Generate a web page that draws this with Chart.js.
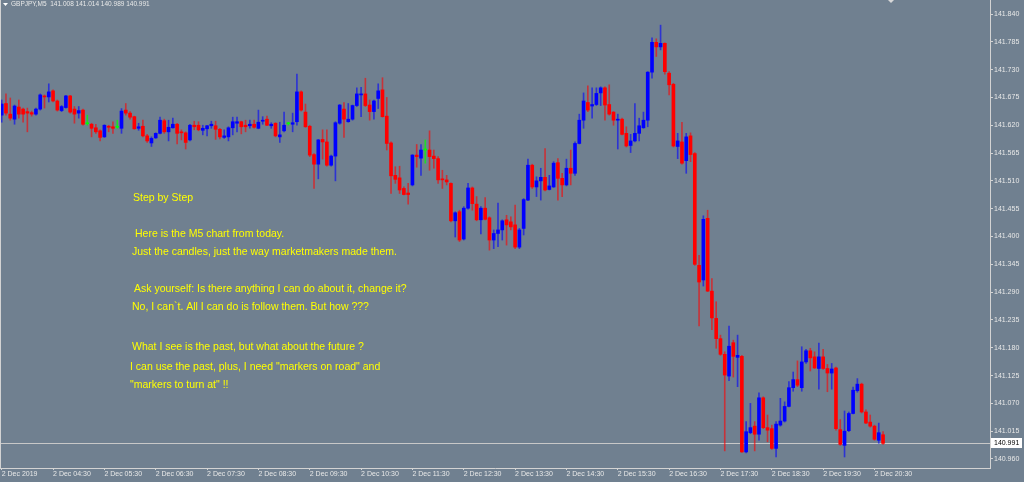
<!DOCTYPE html>
<html>
<head>
<meta charset="utf-8">
<title>GBPJPY,M5</title>
<script src="https://cdn.jsdelivr.net/npm/chart.js@4.4.1/dist/chart.umd.min.js"></script>
<style>
  html, body { margin: 0; padding: 0; background: #708090; }
  canvas { display: block; }
</style>
</head>
<body>
<canvas id="chart" width="1024" height="482"></canvas>
<script>
// GBPJPY M5 candles, 2 Dec 2019 from 03:30 — one row per hour (12 bars)
const symbol = 'GBPJPY,M5';

const opens = [
  141.640,141.663,141.642,141.632,141.656,141.652,141.647,141.645,141.642,141.652,141.678,141.676,
  141.688,141.668,141.649,141.655,141.678,141.652,141.644,141.650,141.623,141.622,141.615,141.609,
  141.597,141.618,141.617,141.616,141.614,141.650,141.644,141.637,141.614,141.618,141.599,141.585,
  141.595,141.604,141.629,141.607,141.615,141.622,141.607,141.605,141.591,141.620,141.620,141.610,
  141.613,141.619,141.619,141.612,141.596,141.597,141.615,141.624,141.627,141.620,141.619,141.622,
  141.614,141.628,141.632,141.619,141.624,141.597,141.609,141.623,141.622,141.627,141.686,141.646,
  141.618,141.562,141.543,141.592,141.587,141.541,141.559,141.624,141.652,141.627,141.632,141.659,
  141.680,141.682,141.660,141.647,141.673,141.690,141.638,141.585,141.521,141.516,141.495,141.486,
  141.502,141.561,141.555,141.571,141.571,141.559,141.554,141.514,141.512,141.505,141.431,141.449,
  141.395,141.456,141.496,141.464,141.433,141.456,141.437,141.393,141.406,141.413,141.433,141.429,
  141.423,141.379,141.416,141.472,141.541,141.498,141.510,141.517,141.493,141.498,141.546,141.515,
  141.502,141.535,141.525,141.584,141.630,141.665,141.658,141.661,141.684,141.694,141.661,141.646,
  141.630,141.632,141.604,141.580,141.589,141.604,141.615,141.630,141.725,141.784,141.775,141.782,
  141.723,141.701,141.578,141.587,141.550,141.599,141.564,141.343,141.314,141.436,141.292,141.238,
  141.198,141.167,141.124,141.190,141.161,141.163,140.974,141.012,141.025,141.009,141.081,141.022,
  141.020,140.981,141.027,141.035,141.064,141.101,141.117,141.101,141.152,141.174,141.162,141.139,
  141.162,141.139,141.130,141.140,141.018,140.987,141.016,141.050,141.095,141.108,141.053,141.033,
  141.025,140.997,141.008
];

const highs = [
  141.670,141.682,141.674,141.660,141.670,141.654,141.654,141.648,141.654,141.682,141.680,141.702,
  141.690,141.670,141.659,141.679,141.679,141.657,141.657,141.652,141.640,141.624,141.622,141.611,
  141.621,141.620,141.627,141.630,141.653,141.663,141.647,141.638,141.624,141.630,141.602,141.597,
  141.605,141.636,141.632,141.630,141.634,141.624,141.611,141.607,141.622,141.628,141.627,141.620,
  141.620,141.628,141.628,141.614,141.611,141.617,141.636,141.636,141.628,141.630,141.630,141.630,
  141.650,141.637,141.638,141.625,141.625,141.626,141.646,141.626,141.644,141.721,141.688,141.662,
  141.620,141.564,141.592,141.611,141.611,141.561,141.627,141.661,141.665,141.663,141.660,141.694,
  141.695,141.713,141.670,141.670,141.702,141.714,141.675,141.587,141.538,141.539,141.498,141.505,
  141.562,141.582,141.582,141.591,141.609,141.571,141.558,141.531,141.521,141.506,141.449,141.452,
  141.459,141.505,141.498,141.479,141.459,141.477,141.439,141.413,141.466,141.433,141.442,141.439,
  141.462,141.416,141.475,141.553,141.543,141.518,141.535,141.574,141.521,141.548,141.554,141.525,
  141.553,141.571,141.587,141.642,141.684,141.698,141.694,141.694,141.696,141.696,141.700,141.647,
  141.642,141.634,141.617,141.602,141.663,141.634,141.646,141.726,141.793,141.791,141.818,141.783,
  141.726,141.703,141.604,141.626,141.604,141.605,141.566,141.363,141.441,141.452,141.317,141.271,
  141.205,141.172,141.223,141.195,141.205,141.165,141.034,141.070,141.034,141.091,141.083,141.047,
  141.027,141.034,141.080,141.073,141.113,141.132,141.154,141.182,141.177,141.179,141.172,141.189,
  141.177,141.147,141.149,141.142,141.038,141.055,141.053,141.102,141.119,141.110,141.057,141.047,
  141.027,141.031,141.014
];

const lows = [
  141.626,141.640,141.630,141.622,141.634,141.626,141.607,141.638,141.640,141.650,141.654,141.666,
  141.666,141.648,141.647,141.654,141.644,141.624,141.634,141.620,141.620,141.597,141.604,141.589,
  141.596,141.607,141.604,141.614,141.604,141.640,141.632,141.612,141.610,141.597,141.586,141.578,
  141.594,141.603,141.604,141.589,141.614,141.583,141.591,141.573,141.589,141.611,141.609,141.601,
  141.599,141.614,141.592,141.593,141.594,141.589,141.601,141.607,141.603,141.607,141.614,141.614,
  141.613,141.622,141.619,141.614,141.597,141.586,141.607,141.620,141.607,141.620,141.648,141.616,
  141.558,141.495,141.514,141.553,141.539,141.539,141.510,141.622,141.596,141.626,141.630,141.657,
  141.637,141.657,141.630,141.632,141.653,141.636,141.571,141.485,141.505,141.485,141.482,141.464,
  141.500,141.537,141.521,141.545,141.531,141.535,141.505,141.495,141.502,141.429,141.399,141.390,
  141.393,141.454,141.452,141.431,141.405,141.433,141.373,141.376,141.380,141.393,141.383,141.413,
  141.376,141.376,141.403,141.471,141.495,141.479,141.472,141.490,141.492,141.497,141.472,141.479,
  141.500,141.502,141.521,141.583,141.614,141.647,141.634,141.659,141.659,141.630,141.640,141.620,
  141.573,141.601,141.577,141.566,141.587,141.589,141.614,141.617,141.713,141.756,141.769,141.721,
  141.680,141.577,141.554,141.543,141.525,141.548,141.343,141.223,141.302,141.291,141.216,141.179,
  141.165,140.976,141.115,141.122,141.103,140.973,140.972,141.010,140.976,140.997,141.020,140.994,
  140.979,140.964,141.025,141.033,141.063,141.094,141.103,141.094,141.149,141.134,141.139,141.098,
  141.137,141.093,141.098,141.017,140.987,140.964,141.014,141.049,141.092,141.051,141.030,141.023,
  140.997,140.991,140.989
];

const closes = [
  141.662,141.644,141.634,141.658,141.642,141.642,141.644,141.642,141.652,141.680,141.676,141.686,
  141.668,141.650,141.657,141.678,141.646,141.642,141.649,141.622,141.623,141.614,141.607,141.596,
  141.620,141.616,141.614,141.616,141.648,141.644,141.636,141.613,141.617,141.599,141.589,141.594,
  141.604,141.630,141.607,141.616,141.622,141.604,141.605,141.586,141.620,141.617,141.611,141.614,
  141.619,141.622,141.612,141.597,141.599,141.615,141.627,141.627,141.617,141.617,141.622,141.616,
  141.626,141.630,141.620,141.622,141.599,141.601,141.620,141.623,141.625,141.686,141.650,141.617,
  141.561,141.543,141.591,141.587,141.541,141.559,141.625,141.660,141.632,141.632,141.659,141.682,
  141.682,141.659,141.647,141.668,141.688,141.637,141.584,141.520,141.513,141.492,141.483,141.483,
  141.561,141.558,141.571,141.571,141.558,141.554,141.512,141.512,141.508,141.431,141.447,141.393,
  141.456,141.496,141.465,141.433,141.456,141.434,141.393,141.406,141.413,141.431,141.423,141.419,
  141.379,141.413,141.473,141.541,141.498,141.510,141.517,141.492,141.500,141.545,141.515,141.502,
  141.535,141.525,141.584,141.630,141.668,141.650,141.661,141.683,141.694,141.660,141.642,141.630,
  141.632,141.602,141.579,141.589,141.604,141.619,141.630,141.725,141.784,141.775,141.782,141.726,
  141.700,141.579,141.589,141.545,141.597,141.562,141.345,141.310,141.434,141.292,141.239,141.198,
  141.167,141.126,141.183,141.163,141.165,140.974,141.014,141.022,141.009,141.081,141.022,141.017,
  140.981,141.029,141.035,141.064,141.101,141.117,141.106,141.152,141.174,141.160,141.140,141.162,
  141.139,141.130,141.138,141.020,140.989,141.015,141.050,141.096,141.108,141.053,141.031,141.025,
  140.999,141.012,140.991
];

// time axis: one label per hour, i.e. every 12 bars
const timeTicks = [
  '2 Dec 2019','2 Dec 04:30','2 Dec 05:30','2 Dec 06:30','2 Dec 07:30','2 Dec 08:30',
  '2 Dec 09:30','2 Dec 10:30','2 Dec 11:30','2 Dec 12:30','2 Dec 13:30','2 Dec 14:30',
  '2 Dec 15:30','2 Dec 16:30','2 Dec 17:30','2 Dec 18:30','2 Dec 19:30','2 Dec 20:30'
];
const barsPerTick = 12;

// price axis labels
const priceTicks = [
  141.840,141.785,141.730,141.675,141.620,141.565,141.510,141.455,141.400,
  141.345,141.290,141.235,141.180,141.125,141.070,141.015,140.960
];

// visible window
const slotMin = -0.4, slotMax = 231;
const priceMin = 140.9422, priceMax = 141.8677;

// text written on the chart
const notes = [
  { text: 'Step by Step', x: 133, y: 198 },
  { text: 'Here is the M5 chart from today.', x: 135, y: 234 },
  { text: 'Just the candles, just the way marketmakers made them.', x: 132, y: 252 },
  { text: 'Ask yourself: Is there anything I can do about it, change it?', x: 134, y: 289 },
  { text: 'No, I can`t. All I can do is follow them. But how ???', x: 132, y: 307 },
  { text: 'What I see is the past, but what about the future ?', x: 132, y: 347 },
  { text: 'I can use the past, plus, I need "markers on road" and', x: 130, y: 367 },
  { text: '"markers to turn at" !!', x: 130, y: 385 }
];

const BG = '#708090';
const FRAME = '#d3d3d3';
const AXIS_TEXT = '#e8e8e8';
const UP = '#0000ff', DOWN = '#ff0000', FLAT = '#00ff00';
const UP_WICK = 'rgba(0,0,255,0.6)', DOWN_WICK = 'rgba(255,0,0,0.6)', FLAT_WICK = 'rgba(0,255,0,0.7)';
const AXIS_FONT = { family: '"Liberation Sans", Arial, sans-serif', size: 7 };

const n = opens.length;
const dir = i => (closes[i] > opens[i] ? 1 : closes[i] < opens[i] ? -1 : 0);
const bodyColors = opens.map((_, i) => dir(i) > 0 ? UP : dir(i) < 0 ? DOWN : FLAT);
const wickColors = opens.map((_, i) => dir(i) > 0 ? UP_WICK : dir(i) < 0 ? DOWN_WICK : FLAT_WICK);
const bodies = opens.map((o, i) => ({ x: i, y: [o, closes[i]] }));
const wicks = lows.map((l, i) => ({ x: i, y: [l, highs[i]] }));
const bid = closes[n - 1];

const decorations = {
  id: 'decorations',
  beforeDraw(chart) {
    const c = chart.ctx;
    c.save();
    c.fillStyle = BG;
    c.fillRect(0, 0, chart.width, chart.height);
    c.restore();
  },
  beforeDatasetsDraw(chart) {
    const c = chart.ctx, a = chart.chartArea;
    const y = Math.round(chart.scales.y.getPixelForValue(bid)) + 0.5;
    c.save();
    c.strokeStyle = '#c8c8c8';
    c.lineWidth = 1;
    c.beginPath();
    c.moveTo(a.left, y);
    c.lineTo(a.right, y);
    c.stroke();
    c.restore();
  },
  afterDraw(chart) {
    const c = chart.ctx, a = chart.chartArea;
    c.save();
    // frame: left edge
    c.strokeStyle = FRAME;
    c.lineWidth = 1;
    c.beginPath();
    c.moveTo(a.left + 0.5, a.top);
    c.lineTo(a.left + 0.5, a.bottom);
    c.stroke();

    // bid price tag on the price axis
    const y = Math.round(chart.scales.y.getPixelForValue(bid));
    c.fillStyle = '#ffffff';
    c.fillRect(a.right + 1, y - 5, 31, 10);
    c.fillStyle = '#000000';
    c.font = '7px "Liberation Sans", Arial, sans-serif';
    c.textBaseline = 'middle';
    c.textAlign = 'left';
    c.fillText(bid.toFixed(3), a.right + 4, y + 0.5);

    // header: symbol and last bar OHLC
    c.fillStyle = '#ffffff';
    c.beginPath();
    c.moveTo(3, 3); c.lineTo(8, 3); c.lineTo(5.5, 6); c.closePath();
    c.fill();
    c.fillStyle = AXIS_TEXT;
    c.font = '6.5px "Liberation Sans", Arial, sans-serif';
    c.fillText(symbol + '  ' + [opens[n - 1], highs[n - 1], lows[n - 1], closes[n - 1]]
      .map(v => v.toFixed(3)).join(' '), 11, 4.5);

    // chart shift marker
    c.fillStyle = '#d8d8d8';
    c.beginPath();
    c.moveTo(888, 0); c.lineTo(894, 0); c.lineTo(891, 3); c.closePath();
    c.fill();

    // notes
    c.fillStyle = '#ffff00';
    c.font = '10.5px "Liberation Sans", Arial, sans-serif';
    c.textBaseline = 'middle';
    notes.forEach(t => c.fillText(t.text, t.x, t.y));
    c.restore();
  }
};

new Chart(document.getElementById('chart'), {
  type: 'bar',
  data: {
    datasets: [
      { label: 'body', data: bodies, backgroundColor: bodyColors, barThickness: 3,
        minBarLength: 1, grouped: false, order: 1 },
      { label: 'wick', data: wicks, backgroundColor: wickColors, barThickness: 1,
        grouped: false, order: 2 }
    ]
  },
  options: {
    responsive: false,
    animation: false,
    layout: { padding: 0 },
    plugins: { legend: { display: false }, tooltip: { enabled: false } },
    scales: {
      x: {
        type: 'linear', position: 'bottom', min: slotMin, max: slotMax,
        offset: false,
        afterBuildTicks: s => { s.ticks = timeTicks.map((_, k) => ({ value: k * barsPerTick })); },
        afterFit: s => { s.height = 14; s.paddingLeft = 0; s.paddingRight = 0; },
        ticks: {
          autoSkip: false, maxRotation: 0, minRotation: 0, align: 'start', padding: 0,
          color: AXIS_TEXT, font: AXIS_FONT,
          callback: (v, i) => timeTicks[i]
        },
        grid: { offset: false, drawOnChartArea: false, drawTicks: true, tickLength: 2, color: FRAME },
        border: { display: true, color: FRAME }
      },
      y: {
        type: 'linear', position: 'right', min: priceMin, max: priceMax,
        afterBuildTicks: s => { s.ticks = priceTicks.map(v => ({ value: v })); },
        afterFit: s => { s.width = 34; s.paddingTop = 0; s.paddingBottom = 0; },
        ticks: {
          autoSkip: false, padding: 1, color: AXIS_TEXT, font: AXIS_FONT,
          callback: v => Number(v).toFixed(3)
        },
        grid: { drawOnChartArea: false, drawTicks: true, tickLength: 3, color: FRAME },
        border: { display: true, color: FRAME }
      }
    }
  },
  plugins: [decorations]
});
</script>
</body>
</html>
